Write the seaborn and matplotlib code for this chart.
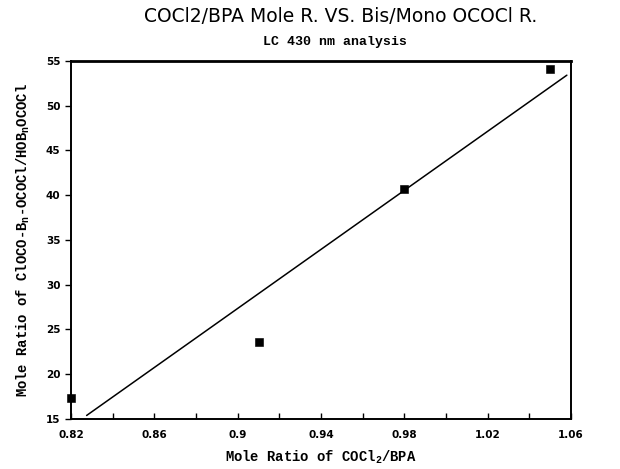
import numpy as np
import pandas as pd
import seaborn as sns
import matplotlib.pyplot as plt
from matplotlib.ticker import MultipleLocator

# data
mole_ratio = [0.82, 0.91, 0.98, 1.05]
bis_mono = [17.4, 23.6, 40.7, 54.1]
fit_span = [0.8275, 1.058]   # x range the fit line is drawn over

df = pd.DataFrame({'x': mole_ratio, 'y': bis_mono})

sns.set_style('ticks')
mono = 'Liberation Mono'
plt.rcParams.update({
    'text.color': 'black', 'axes.labelcolor': 'black', 'axes.edgecolor': 'black',
    'xtick.color': 'black', 'ytick.color': 'black',
    'mathtext.fontset': 'custom', 'mathtext.rm': mono + ':bold',
    'mathtext.it': mono + ':bold', 'mathtext.bf': mono + ':bold',
})

fig = plt.figure(figsize=(6.2, 4.69), dpi=100)
ax = fig.add_axes([0.1145, 0.1066, 0.8065, 0.7634])

# least squares line
slope, icpt = np.polyfit(df['x'], df['y'], 1)
fx = np.array(fit_span)
sns.lineplot(x=fx, y=slope * fx + icpt, color='black', lw=1.1, ax=ax)
sns.scatterplot(data=df, x='x', y='y', marker='s', s=28, color='black',
                edgecolor='black', ax=ax, zorder=3, clip_on=False)

ax.set_xlim(0.82, 1.06)
ax.set_ylim(15, 55)
ax.xaxis.set_minor_locator(MultipleLocator(0.02))
ax.yaxis.set_major_locator(MultipleLocator(5))
ax.set_xticks([0.82, 0.86, 0.9, 0.94, 0.98, 1.02, 1.06])
ax.set_xticklabels(['0.82', '0.86', '0.9', '0.94', '0.98', '1.02', '1.06'])

ax.tick_params(axis='x', which='both', direction='in', length=4, width=1, labelsize=7.5, pad=8)
ax.tick_params(axis='y', direction='out', length=4, width=1, labelsize=7.5)
for lab in ax.get_xticklabels() + ax.get_yticklabels():
    lab.set_fontweight('bold')
for s in ax.spines.values():
    s.set_visible(True)
    s.set_linewidth(1.4)
ax.spines['top'].set_linewidth(2)

ax.set_xlabel('Mole Ratio of COCl$_2$/BPA', family=mono, fontweight='bold', fontsize=10, labelpad=6)
ax.set_ylabel('Mole Ratio of ClOCO-B$_n$-OCOCl/HOB$_n$OCOCl', family=mono,
              fontweight='bold', fontsize=10, labelpad=10)

fig.text(0.55, 0.964, 'COCl2/BPA Mole R. VS. Bis/Mono OCOCl R.', ha='center', va='center',
         fontsize=13.5, family='DejaVu Sans', fontweight='normal')
fig.text(0.54, 0.91, 'LC 430 nm analysis', ha='center', va='center',
         fontsize=9.5, family=mono, fontweight='bold')

fig.savefig('out.png', dpi=100)
